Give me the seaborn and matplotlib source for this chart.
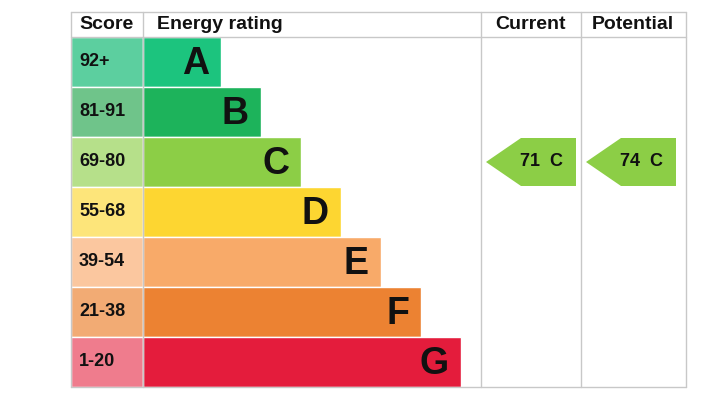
import matplotlib
matplotlib.use("Agg")
import matplotlib.pyplot as plt
import seaborn as sns
from matplotlib.patches import Polygon

sns.set_theme(style="white")
plt.rcParams['font.family'] = ['Liberation Sans', 'DejaVu Sans']

letters = ["A", "B", "C", "D", "E", "F", "G"]
scores = ["92+", "81-91", "69-80", "55-68", "39-54", "21-38", "1-20"]
bar_colors = ["#1cc47e", "#1db35b", "#8cce46", "#fdd631", "#f8aa69", "#ec8232", "#e41c3c"]
cell_colors = ["#5ccf9f", "#6fc48a", "#b6e08a", "#fde57a", "#fbc79f", "#f2ab74", "#ef7c8d"]
current_value, current_letter = 71, "C"
potential_value, potential_letter = 74, "C"

W, H = 713, 403
fig = plt.figure(figsize=(W/100, H/100), dpi=100)
ax = fig.add_axes([0, 0, 1, 1])
ax.set_xlim(0, W); ax.set_ylim(H, 0); ax.axis("off")

x0, xs, xe, xc, xp, x1 = 71, 143, 481, 581, 686, 686
top, hdr, rh = 12, 37, 50
grid = "#c8c8c8"
# frame
for x in [x0, xs, xe, xc, x1]:
    ax.plot([x, x], [top, hdr + 7*rh], color=grid, lw=1)
for y in [top, hdr, hdr + 7*rh]:
    ax.plot([x0, x1], [y, y], color=grid, lw=1)

hfont = dict(fontsize=14, fontweight="bold", va="center", color="#111")
ax.text(107, 24.5, "Score", ha="center", **hfont)
ax.text(157, 24.5, "Energy rating", ha="left", **hfont)
ax.text(531, 24.5, "Current", ha="center", **hfont)
ax.text(633, 24.5, "Potential", ha="center", **hfont)

ys = [hdr + rh*i + rh/2 for i in range(7)]
widths = [78 + 40*i for i in range(7)]
ax.barh(ys, [xs - x0]*7, left=x0, height=rh, color=cell_colors)
ax.barh(ys, widths, left=xs, height=rh, color=bar_colors)
for i in range(7):
    ax.text(x0 + 8, ys[i], scores[i], ha="left", va="center", fontsize=13, fontweight="bold", color="#111")
    ax.text(xs + widths[i] - 12, ys[i] + 2, letters[i], ha="right", va="center", fontsize=27, fontweight="bold", color="#111")

def arrow(xl, xr, value, letter):
    i = letters.index(letter)
    yc = ys[i]
    t, b = yc - rh/2 + 1, yc + rh/2 - 1
    poly = Polygon([(xl, yc), (xl + 35, t), (xr, t), (xr, b), (xl + 35, b)], closed=True,
                   facecolor=bar_colors[i], edgecolor="none")
    ax.add_patch(poly)
    ax.text((xl + xr)/2 + 10, yc, f"{value}  {letter}", ha="center", va="center",
            fontsize=13, fontweight="bold", color="#111")

arrow(486, 576, current_value, current_letter)
arrow(586, 676, potential_value, potential_letter)

fig.savefig("out.png", dpi=100, facecolor="white")
